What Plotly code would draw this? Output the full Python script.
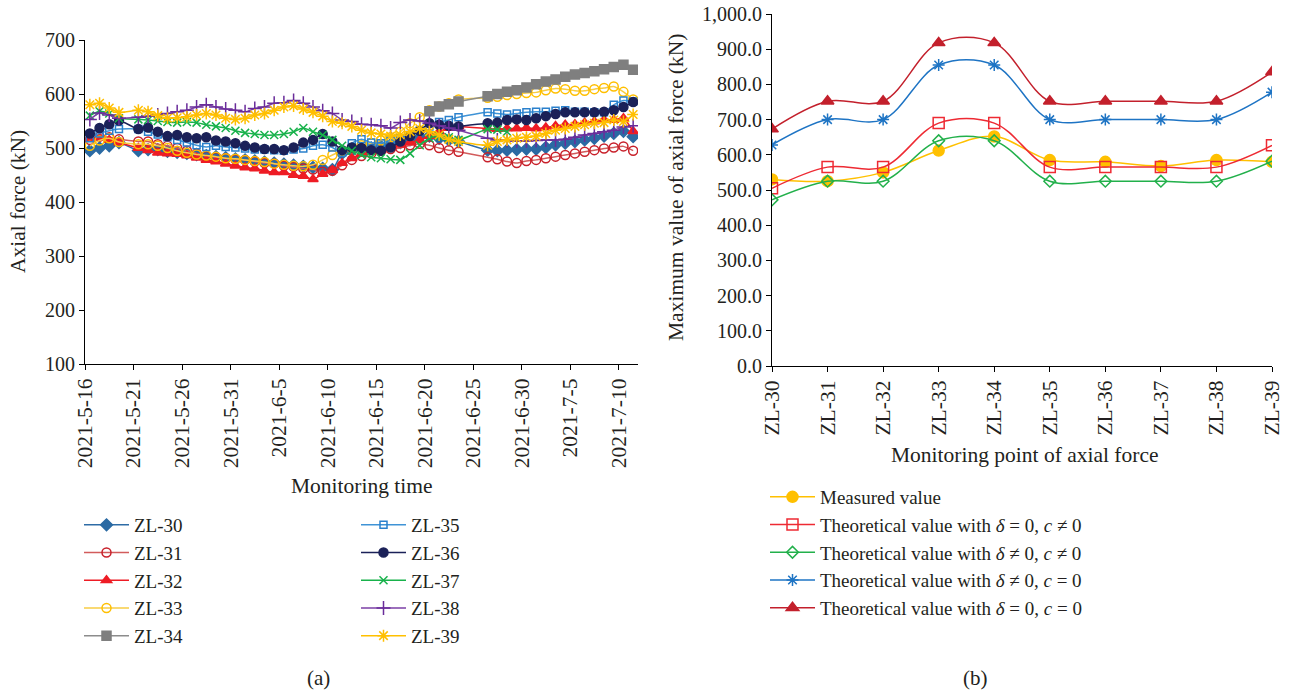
import plotly.graph_objects as go

# ---------------- data: left chart (a) ----------------
dates = (["2021-05-%02d" % d for d in (16, 17, 18, 19)] +
         ["2021-05-%02d" % d for d in range(21, 32)] +
         ["2021-06-%02d" % d for d in range(1, 24)] +
         ["2021-06-%02d" % d for d in range(26, 31)] +
         ["2021-07-%02d" % d for d in range(1, 12)])

zl30 = [495, 500, 504, 510,
        495, 497, 497, 494, 492, 490, 488, 486, 484, 482, 480, 478, 476, 474, 472, 470, 468, 466, 464, 462, 460,
        490, 495, 498, 500, 503, 506, 510, 515, 520, 522, 518, 515, 512,
        496, 495, 496, 497, 498, 498, 501, 506, 509, 512, 515, 518, 522, 527, 531, 521]
zl31 = [515, 521, 520, 516,
        512, 512, 507, 504, 500, 495, 490, 485, 483, 481, 479, 478, 475, 472, 471, 467, 465, 462,
        460, 456, 458, 468, 478, 485, 490, 495, 498, 500, 505, 508, 505, 500, 496, 493,
        483, 479, 475, 472, 476, 478, 481, 484, 487, 490, 493, 496, 499, 501, 503, 495]
zl32 = [518, 520, 515, 510,
        500, 496, 491, 490, 489, 486, 482, 478, 475, 471, 467, 464, 462, 458, 455, 455, 450, 448,
        442, 452, 459, 472, 481, 489, 493, 496, 501, 506, 510, 515, 522, 530, 537, 540,
        536, 535, 536, 536, 537, 536, 538, 541, 543, 544, 547, 549, 552, 552, 555, 531]
zl33 = [504, 514, 518, 511,
        507, 507, 504, 500, 495, 491, 488, 486, 484, 481, 480, 478, 476, 474, 471, 469, 467, 466,
        469, 478, 487, 495, 500, 505, 509, 514, 520, 530, 546, 557, 570, 577, 583, 590,
        593, 595, 598, 600, 602, 603, 607, 610, 609, 606, 606, 609, 611, 614, 604, 590]
zl34 = [None] * 34 + [568, 577, 581, 586,
        596, 600, 604, 607, 612, 618, 623, 627, 632, 636, 639, 642, 646, 650, 654, 645]
zl35 = [518, 527, 532, 535,
        535, 530, 525, 520, 515, 510, 505, 502, 504, 502, 501, 499, 497, 497, 496, 495, 497, 499,
        504, 506, 501, 491, 509, 516, 510, 509, 514, 518, 524, 532, 540, 548, 552, 557,
        566, 564, 562, 564, 566, 567, 567, 569, 570, 567, 567, 566, 566, 580, 588, 586]
zl36 = [527, 537, 544, 551,
        535, 538, 530, 522, 524, 520, 518, 520, 514, 512, 509, 504, 501, 498, 498, 496, 501, 510,
        515, 526, 512, 496, 501, 500, 496, 495, 501, 512, 522, 532, 546, 543, 541, 540,
        546, 547, 552, 553, 552, 555, 559, 563, 566, 566, 566, 566, 567, 570, 576, 585]
zl37 = [560, 568, 564, 555,
        553, 552, 550, 548, 547, 548, 547, 543, 540, 537, 532, 528, 526, 524, 524, 526, 530, 537,
        530, 524, 515, 504, 495, 487, 483, 481, 479, 478, 490, 505, 518, 522, 520, 515,
        535, 534, 530] + [None] * 13
zl38 = [553, 565, 561, 555,
        557, 559, 561, 564, 567, 570, 576, 580, 576, 572, 570, 567, 573, 576, 583, 584, 588, 583,
        576, 569, 564, 552, 549, 544, 543, 541, 537, 547, 552, 550, 546, 541, 537, 533,
        518, 515, 514, 513, 513, 514, 515, 515, 516, 520, 524, 527, 530, 533, 539, 541]
zl39 = [580, 583, 574, 566,
        570, 567, 560, 555, 556, 558, 561, 564, 561, 555, 553, 555, 561, 564, 570, 576, 578, 572,
        566, 559, 549, 546, 540, 533, 528, 526, 522, 524, 530, 536, 530, 524, 516, 512,
        505, 512, 515, 518, 520, 522, 527, 533, 536, 540, 543, 546, 547, 552, 549, 562]

tick_dates = ["2021-05-16", "2021-05-21", "2021-05-26", "2021-05-31", "2021-06-05", "2021-06-10",
              "2021-06-15", "2021-06-20", "2021-06-25", "2021-06-30", "2021-07-05", "2021-07-10"]
tick_text = ["2021-5-16", "2021-5-21", "2021-5-26", "2021-5-31", "2021-6-5", "2021-6-10",
             "2021-6-15", "2021-6-20", "2021-6-25", "2021-6-30", "2021-7-5", "2021-7-10"]

# ---------------- data: right chart (b) ----------------
points = ["ZL-30", "ZL-31", "ZL-32", "ZL-33", "ZL-34", "ZL-35", "ZL-36", "ZL-37", "ZL-38", "ZL-39"]
measured = [530, 525, 550, 612, 652, 585, 580, 568, 585, 580]
th_d0_cn0 = [505, 565, 565, 690, 690, 565, 565, 565, 565, 627]
th_dn0_cn0 = [472, 525, 525, 640, 640, 525, 525, 525, 525, 582]
th_dn0_c0 = [628, 700, 700, 855, 855, 700, 700, 700, 700, 778]
th_d0_c0 = [673, 752, 752, 918, 918, 752, 752, 752, 752, 835]

FONT = "Liberation Serif"
TXT = "#231f20"
W, H = 1306, 695

fig = go.Figure()

left_series = [
    ("ZL-30", zl30, "#2e6ca6", "#2b6aa3", "diamond", 9, "legend"),
    ("ZL-31", zl31, "#d25c5c", "#c8202a", "circle-open", 9, "legend"),
    ("ZL-32", zl32, "#ee1c25", "#ee1c25", "triangle-up", 9, "legend"),
    ("ZL-33", zl33, "#f7cd44", "#ffbf00", "circle-open", 9, "legend"),
    ("ZL-34", zl34, "#8c8c8c", "#7f7f7f", "square", 9, "legend"),
    ("ZL-35", zl35, "#3f93d6", "#2a80cc", "square-open", 7, "legend2"),
    ("ZL-36", zl36, "#1b2158", "#1b2158", "circle", 9, "legend2"),
    ("ZL-37", zl37, "#18b24b", "#18b24b", "x-thin-open", 8, "legend2"),
    ("ZL-38", zl38, "#7b3fa6", "#6a2c9a", "cross-thin-open", 10, "legend2"),
    ("ZL-39", zl39, "#ffc000", "#ffbf00", "asterisk-open", 10, "legend2"),
]
for name, vals, lc, mc, sym, sz, lg in left_series:
    fig.add_trace(go.Scatter(
        x=dates, y=vals, name=name, mode="lines+markers",
        xperiod=86400000, xperiodalignment="middle",
        line=dict(color=lc, width=1.5, shape="spline", smoothing=0.6),
        marker=dict(symbol=sym, size=sz, color=mc, line=dict(color=mc, width=1.5)),
        xaxis="x", yaxis="y", legend=lg, legendgroup=name, connectgaps=False))

right_series = [
    ("Measured value", measured, "#ffc000", "#ffc000", "circle", 11),
    ("Theoretical value with <i>δ</i> = 0, <i>c</i> ≠ 0", th_d0_cn0, "#ee2a33", "#ee2a33", "square-open", 11),
    ("Theoretical value with <i>δ</i> ≠ 0, <i>c</i> ≠ 0", th_dn0_cn0, "#22b04b", "#22b04b", "diamond-open", 9),
    ("Theoretical value with <i>δ</i> ≠ 0, <i>c</i> = 0", th_dn0_c0, "#1e74c4", "#1e74c4", "asterisk-open", 10),
    ("Theoretical value with <i>δ</i> = 0, <i>c</i> = 0", th_d0_c0, "#c3202c", "#c3202c", "triangle-up", 11),
]
for name, vals, lc, mc, sym, sz in right_series:
    fig.add_trace(go.Scatter(
        x=points, y=vals, name=name, mode="lines+markers",
        line=dict(color=lc, width=1.5, shape="spline", smoothing=1.0),
        marker=dict(symbol=sym, size=sz, color=mc, line=dict(color=mc, width=1.5)),
        xaxis="x2", yaxis="y2", legend="legend3", legendgroup=name))

axis_common = dict(showgrid=False, zeroline=False, showline=True, linecolor="black", linewidth=1,
                   ticks="outside", ticklen=5, tickcolor="black", automargin=False,
                   tickfont=dict(family=FONT, size=20, color=TXT))

legend_common = dict(font=dict(family=FONT, size=19, color=TXT), bgcolor="rgba(0,0,0,0)",
                     xanchor="left", yanchor="top", tracegroupgap=0, itemwidth=45,
                     orientation="v")

fig.update_layout(
    width=W, height=H, margin=dict(l=0, r=0, t=0, b=0),
    paper_bgcolor="white", plot_bgcolor="white",
    font=dict(family=FONT, color=TXT),
    xaxis=dict(axis_common, type="date", domain=[85 / W, 638 / W],
               range=["2021-05-16", "2021-07-12"], tickvals=tick_dates, ticktext=tick_text,
               tickangle=-90, tickfont=dict(family=FONT, size=21.5, color=TXT)),
    yaxis=dict(axis_common, domain=[1 - 364 / H, 1 - 40 / H], range=[100, 700],
               tickvals=[100, 200, 300, 400, 500, 600, 700]),
    xaxis2=dict(axis_common, type="category", domain=[772 / W, 1272 / W], range=[0, 9],
                tickangle=-90, anchor="y2", tickfont=dict(family=FONT, size=21.5, color=TXT)),
    yaxis2=dict(axis_common, domain=[1 - 366 / H, 1 - 14 / H], range=[0, 1000],
                tickvals=list(range(0, 1001, 100)), tickformat=",.1f", anchor="x2"),
    legend=dict(legend_common, x=79 / W, y=1 - 506 / H),
    legend2=dict(legend_common, x=356 / W, y=1 - 506 / H),
    legend3=dict(legend_common, x=765 / W, y=1 - 478 / H),
    showlegend=True,
)

ann = [
    dict(text="Axial force (kN)", x=18 / W, y=1 - 202 / H, textangle=-90, size=21.5),
    dict(text="Monitoring time", x=362 / W, y=1 - 486 / H, textangle=0, size=21.5),
    dict(text="Maximum value of axial force (kN)", x=676 / W, y=1 - 188 / H, textangle=-90, size=21.5),
    dict(text="Monitoring point of axial force", x=1025 / W, y=1 - 455 / H, textangle=0, size=21.5),
    dict(text="(a)", x=318 / W, y=1 - 678 / H, textangle=0, size=21),
    dict(text="(b)", x=975 / W, y=1 - 678 / H, textangle=0, size=21),
]
for a in ann:
    sz = a.pop("size")
    fig.add_annotation(xref="paper", yref="paper", showarrow=False, xanchor="center", yanchor="middle",
                       font=dict(family=FONT, size=sz, color=TXT), **a)

fig.write_html("out.html")
